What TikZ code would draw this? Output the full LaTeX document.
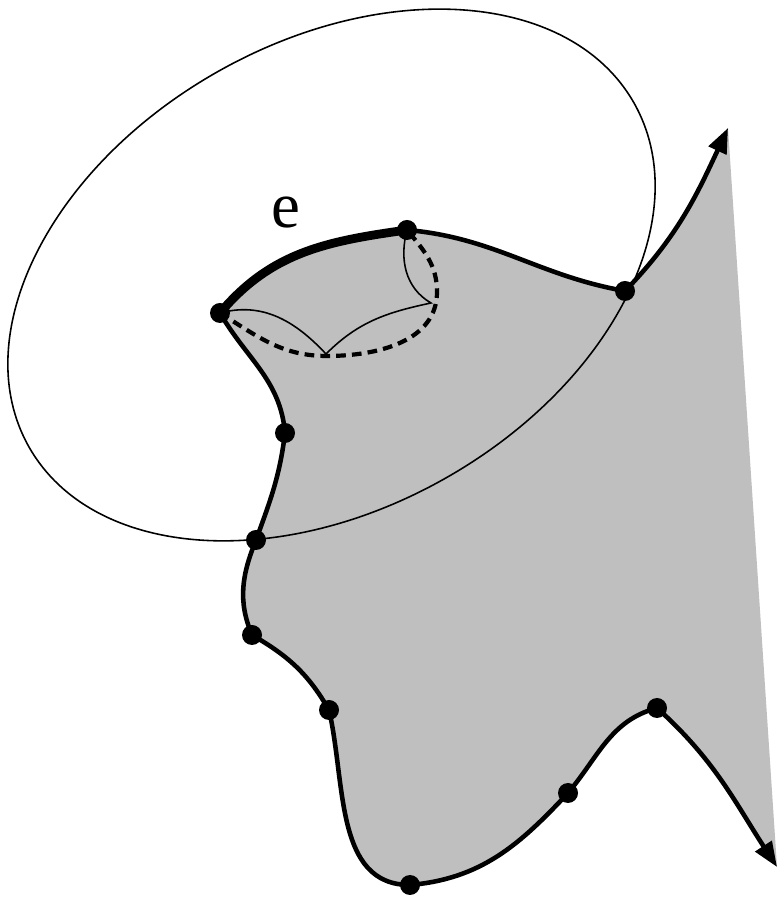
\documentclass[tikz,border=0pt]{standalone}
\usepackage{fontspec}
\setmainfont{Liberation Serif}
\usepackage{tikz}
\usetikzlibrary{arrows.meta,calc}

\begin{document}
\begin{tikzpicture}[x=0.02cm,y=0.02cm,
    >={Triangle[length=0.5cm,width=0.38cm]},
    rim/.style={line width=2.6pt},
    thinline/.style={line width=0.9pt},
    dashline/.style={line width=2.4pt,dash pattern=on 5.5pt off 3.5pt}]
  \useasboundingbox (0,0) rectangle (781,898);
  \coordinate (tA) at (728,770);  \coordinate (tB) at (777,31);
  \coordinate (p1) at (625,607);  \coordinate (p2) at (407,668);
  \coordinate (p3) at (220,585);  \coordinate (p4) at (285,465);
  \coordinate (p5) at (256,358);  \coordinate (p6) at (252,263);
  \coordinate (p7) at (329,188);  \coordinate (p8) at (410,13);
  \coordinate (p9) at (568,105);  \coordinate (p10) at (657,190);
  \coordinate (c1) at (326,544);  \coordinate (c2) at (431,595);
  \coordinate (d1) at (327,542);  \coordinate (d2) at (437,606);
  \fill[gray!50] (tA) to[out=245,in=46] (p1) to[out=170,in=-5] (p2)
    to[out=188,in=50] (p3) to[out=-60,in=95] (p4) to[out=-97,in=70] (p5)
    to[out=-112,in=113] (p6) to[out=-30,in=120] (p7) to[out=-77,in=180] (p8)
    to[out=5,in=227] (p9) to[out=50,in=195] (p10) to[out=-42,in=123] (tB) -- cycle;
  \draw[thinline] (331.5,623) ellipse[x radius=348,y radius=233,rotate=29.7];
  \draw[thinline] (p3) to[out=15,in=133] (c1) to[out=45,in=192] (c2)
    to[out=150,in=-105] (p2);
  \draw[dashline] (p3) to[out=-32,in=180] (d1) to[out=0,in=-90] (d2)
    to[out=90,in=-50] (p2);
  \draw[rim,<->] (tA) to[out=245,in=46] (p1) to[out=170,in=-5] (p2)
    to[out=188,in=50] (p3) to[out=-60,in=95] (p4) to[out=-97,in=70] (p5)
    to[out=-112,in=113] (p6) to[out=-30,in=120] (p7) to[out=-77,in=180] (p8)
    to[out=5,in=227] (p9) to[out=50,in=195] (p10) to[out=-42,in=123] (tB);
  \draw[line width=5pt] (p2) to[out=188,in=50] (p3);
  \foreach \p in {p1,p2,p3,p4,p5,p6,p7,p8,p9,p10}
    \fill (\p) circle (10);
  \node (lab) at (286,685) {\fontsize{37}{42}\selectfont e};
\end{tikzpicture}
\end{document}
